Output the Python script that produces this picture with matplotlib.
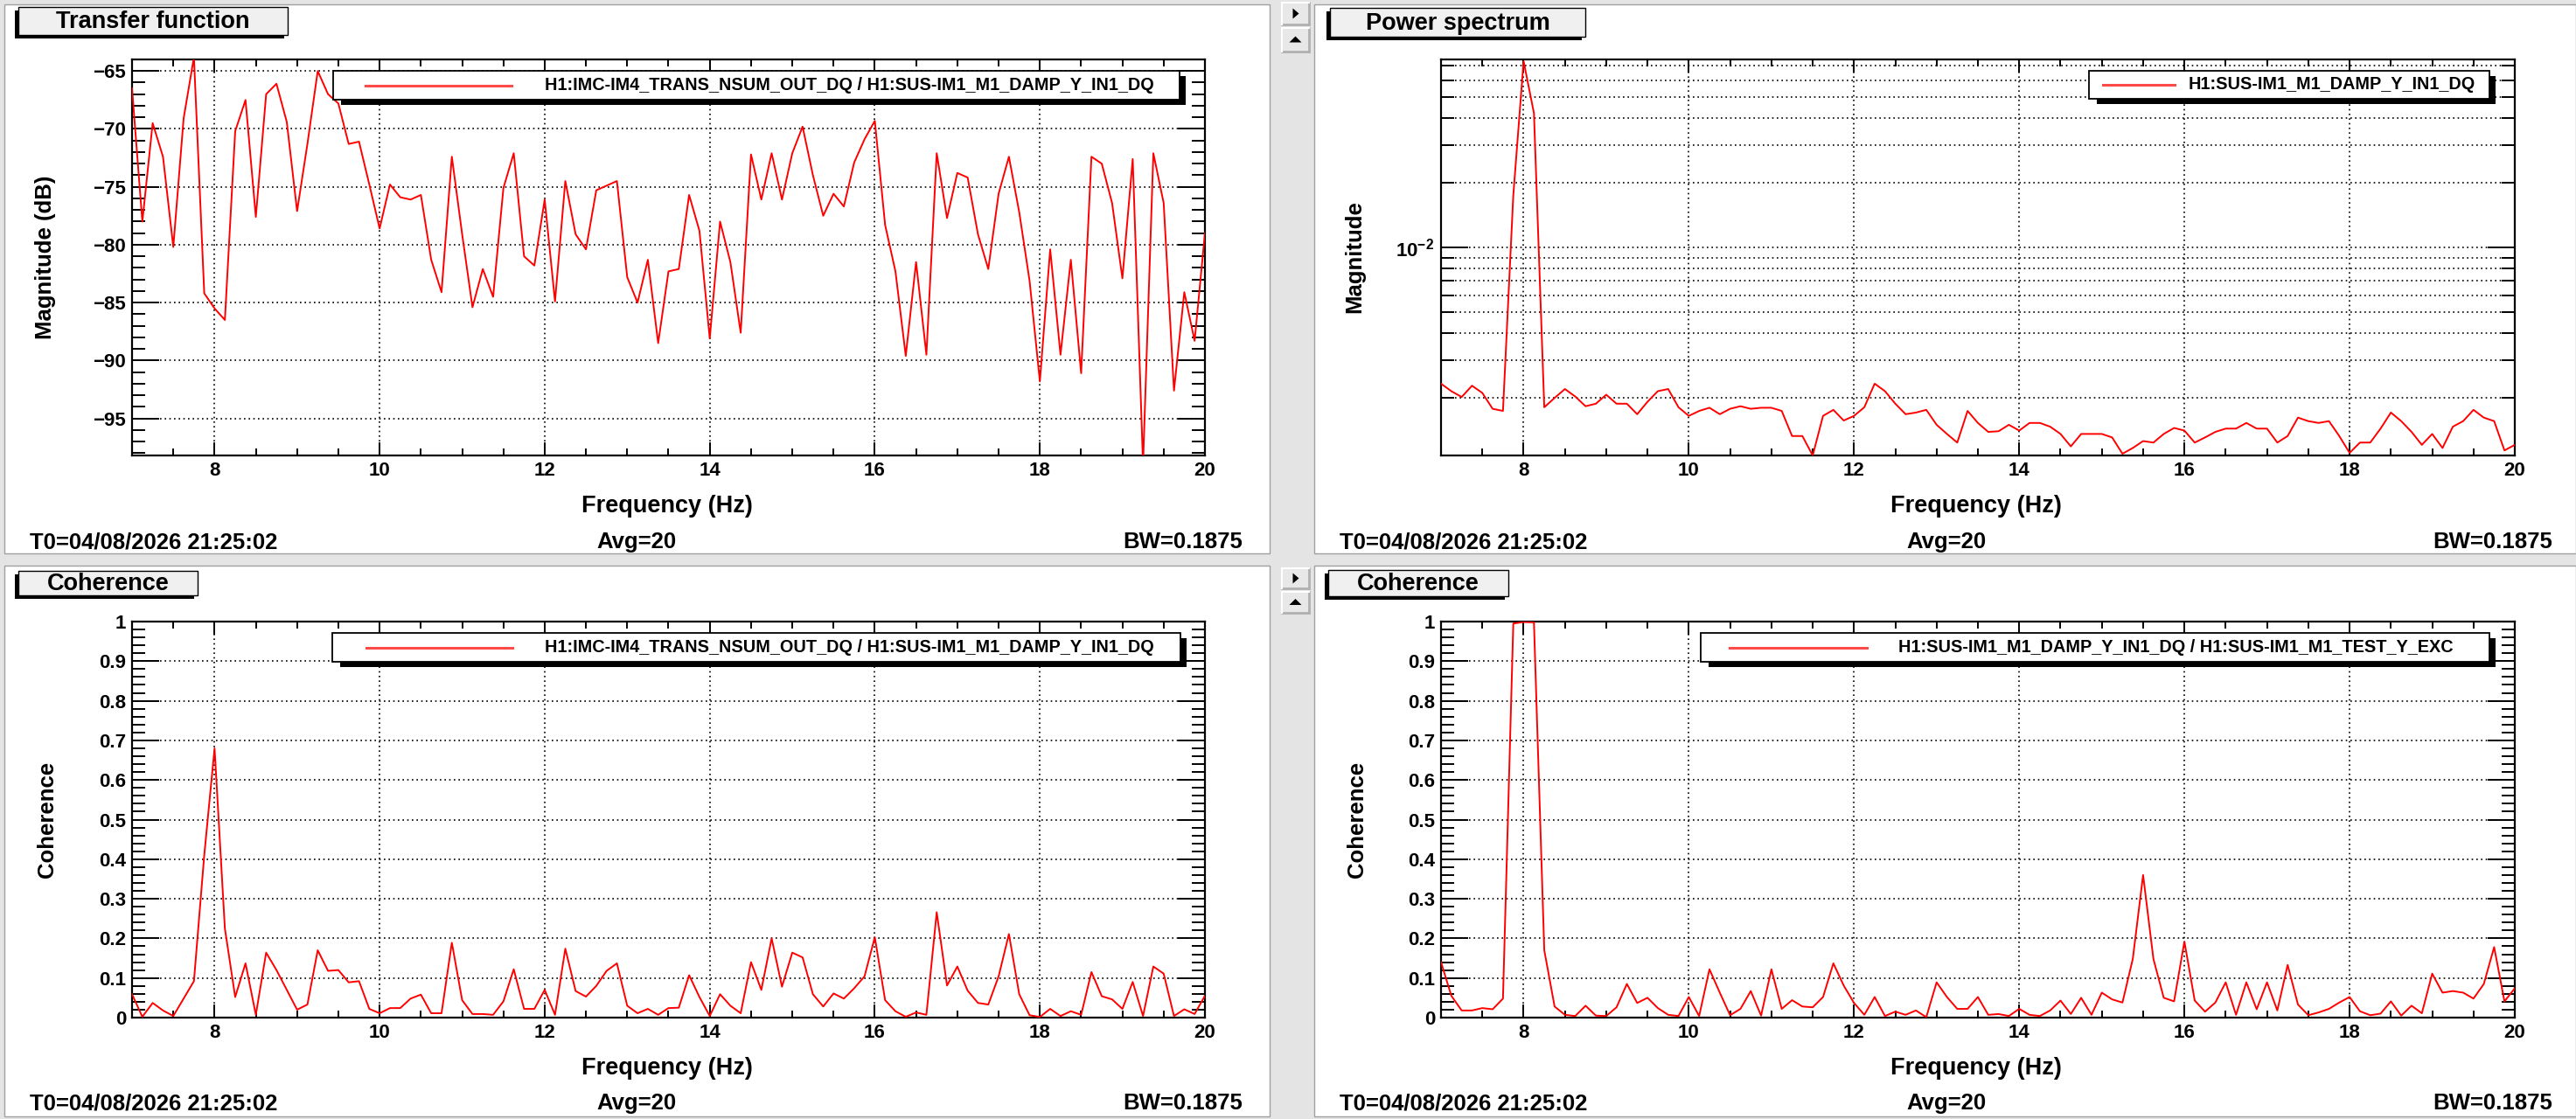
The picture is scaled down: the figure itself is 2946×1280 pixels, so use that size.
import numpy as np
import matplotlib
matplotlib.use("Agg")
import matplotlib.pyplot as plt
from matplotlib.patches import Rectangle, Polygon
from matplotlib.lines import Line2D
from matplotlib.ticker import MultipleLocator, FixedLocator, FixedFormatter, NullFormatter

plt.rcParams['font.family'] = ['Liberation Sans', 'DejaVu Sans']
plt.rcParams['font.weight'] = 'bold'
plt.rcParams['mathtext.fontset'] = 'custom'
plt.rcParams['mathtext.rm'] = 'Liberation Sans:bold'
plt.rcParams['mathtext.it'] = 'Liberation Sans:bold'
plt.rcParams['mathtext.bf'] = 'Liberation Sans:bold'

# ---------------- data ----------------
freq_start = 7.0
freq_step = 0.125
n_points = 105
freq = freq_start + freq_step * np.arange(n_points)

tf_mag_db = [
    -66.5, -78.0, -69.5, -72.4, -80.2, -69.1, -63.8, -84.2,   # 7
    -85.5, -86.5, -70.2, -67.5, -77.6, -67.0, -66.1, -69.4,   # 8
    -77.1, -71.3, -65.0, -67.0, -67.8, -71.3, -71.1, -74.8,   # 9
    -78.6, -74.8, -75.9, -76.1, -75.7, -81.3, -84.1, -72.4,   # 10
    -79.1, -85.4, -82.1, -84.5, -75.1, -72.1, -81.0, -81.8,   # 11
    -76.1, -84.9, -74.5, -79.1, -80.4, -75.3, -74.9, -74.5,   # 12
    -82.8, -85.0, -81.3, -88.5, -82.3, -82.1, -75.7, -78.8,   # 13
    -88.1, -78.0, -81.5, -87.6, -72.2, -76.1, -72.1, -76.1,   # 14
    -72.1, -69.8, -74.0, -77.5, -75.6, -76.7, -72.9, -70.9,   # 15
    -69.3, -78.3, -82.3, -89.6, -81.5, -89.5, -72.1, -77.7,   # 16
    -73.8, -74.2, -79.1, -82.1, -75.6, -72.4, -77.2, -83.1,   # 17
    -91.8, -80.4, -89.5, -81.3, -91.1, -72.4, -73.0, -76.4,   # 18
    -82.9, -72.6, -99.0, -72.1, -76.4, -92.6, -84.1, -88.3,   # 19
    -79.0]

psd_mag = [
    2.33e-3, 2.15e-3, 2.02e-3, 2.28e-3, 2.11e-3, 1.78e-3, 1.74e-3, 1.75e-2,
    7.36e-2, 4.22e-2, 1.81e-3, 2.00e-3, 2.20e-3, 2.03e-3, 1.83e-3, 1.88e-3,
    2.07e-3, 1.88e-3, 1.88e-3, 1.68e-3, 1.92e-3, 2.15e-3, 2.20e-3, 1.81e-3,
    1.65e-3, 1.74e-3, 1.80e-3, 1.68e-3, 1.78e-3, 1.83e-3, 1.78e-3, 1.80e-3,
    1.80e-3, 1.74e-3, 1.33e-3, 1.33e-3, 1.08e-3, 1.65e-3, 1.76e-3, 1.57e-3,
    1.65e-3, 1.81e-3, 2.33e-3, 2.15e-3, 1.88e-3, 1.68e-3, 1.71e-3, 1.76e-3,
    1.50e-3, 1.36e-3, 1.24e-3, 1.74e-3, 1.53e-3, 1.39e-3, 1.40e-3, 1.50e-3,
    1.41e-3, 1.53e-3, 1.53e-3, 1.47e-3, 1.36e-3, 1.19e-3, 1.36e-3, 1.36e-3,
    1.36e-3, 1.31e-3, 1.10e-3, 1.17e-3, 1.26e-3, 1.24e-3, 1.36e-3, 1.45e-3,
    1.41e-3, 1.24e-3, 1.31e-3, 1.39e-3, 1.44e-3, 1.44e-3, 1.53e-3, 1.44e-3,
    1.44e-3, 1.24e-3, 1.33e-3, 1.62e-3, 1.56e-3, 1.53e-3, 1.56e-3, 1.33e-3,
    1.11e-3, 1.24e-3, 1.24e-3, 1.44e-3, 1.71e-3, 1.56e-3, 1.39e-3, 1.21e-3,
    1.36e-3, 1.17e-3, 1.47e-3, 1.56e-3, 1.76e-3, 1.62e-3, 1.56e-3, 1.14e-3,
    1.21e-3]

coh_imc = [
    0.059, 0.002, 0.037, 0.018, 0.004, 0.048, 0.092, 0.410,
    0.680, 0.225, 0.052, 0.137, 0.007, 0.164, 0.120, 0.070,
    0.020, 0.033, 0.170, 0.118, 0.120, 0.089, 0.092, 0.022,
    0.011, 0.024, 0.024, 0.048, 0.058, 0.011, 0.011, 0.189,
    0.044, 0.009, 0.009, 0.007, 0.041, 0.122, 0.022, 0.022,
    0.070, 0.007, 0.174, 0.067, 0.053, 0.080, 0.118, 0.137,
    0.030, 0.011, 0.022, 0.007, 0.024, 0.025, 0.107, 0.052,
    0.004, 0.059, 0.030, 0.011, 0.140, 0.070, 0.200, 0.078,
    0.164, 0.152, 0.059, 0.028, 0.061, 0.048, 0.074, 0.104,
    0.203, 0.044, 0.016, 0.002, 0.013, 0.007, 0.266, 0.081,
    0.129, 0.068, 0.037, 0.033, 0.104, 0.211, 0.059, 0.006,
    0.0015, 0.022, 0.004, 0.016, 0.007, 0.115, 0.054, 0.046,
    0.022, 0.090, 0.004, 0.129, 0.111, 0.004, 0.021, 0.009,
    0.055]

coh_sus = [
    0.140, 0.055, 0.018, 0.018, 0.024, 0.021, 0.048, 0.995,
    0.999, 0.998, 0.170, 0.028, 0.007, 0.004, 0.030, 0.005,
    0.004, 0.026, 0.085, 0.037, 0.050, 0.024, 0.007, 0.004,
    0.052, 0.004, 0.122, 0.063, 0.006, 0.022, 0.067, 0.005,
    0.122, 0.022, 0.044, 0.028, 0.026, 0.052, 0.137, 0.081,
    0.037, 0.007, 0.052, 0.004, 0.015, 0.007, 0.018, 0.001,
    0.089, 0.052, 0.022, 0.022, 0.052, 0.007, 0.009, 0.004,
    0.022, 0.007, 0.004, 0.018, 0.043, 0.009, 0.050, 0.007,
    0.063, 0.046, 0.038, 0.148, 0.360, 0.148, 0.050, 0.041,
    0.192, 0.043, 0.015, 0.038, 0.089, 0.007, 0.089, 0.021,
    0.089, 0.018, 0.133, 0.033, 0.006, 0.013, 0.022, 0.038,
    0.052, 0.016, 0.006, 0.010, 0.041, 0.005, 0.030, 0.011,
    0.111, 0.063, 0.067, 0.063, 0.048, 0.085, 0.178, 0.041,
    0.074]

panel_titles = ["Transfer function", "Power spectrum", "Coherence", "Coherence"]
legend_labels = ["H1:IMC-IM4_TRANS_NSUM_OUT_DQ / H1:SUS-IM1_M1_DAMP_Y_IN1_DQ",
                 "H1:SUS-IM1_M1_DAMP_Y_IN1_DQ",
                 "H1:IMC-IM4_TRANS_NSUM_OUT_DQ / H1:SUS-IM1_M1_DAMP_Y_IN1_DQ",
                 "H1:SUS-IM1_M1_DAMP_Y_IN1_DQ / H1:SUS-IM1_M1_TEST_Y_EXC"]
y_labels = ["Magnitude (dB)", "Magnitude", "Coherence", "Coherence"]
x_label = "Frequency (Hz)"
footer_t0 = "T0=04/08/2026 21:25:02"
footer_avg = "Avg=20"
footer_bw = "BW=0.1875"
freq_ticks = [8, 10, 12, 14, 16, 18, 20]
tf_ticks = [-95, -90, -85, -80, -75, -70, -65]
psd_major_ticks = [1e-2]
psd_minor_ticks = [2e-3, 3e-3, 4e-3, 5e-3, 6e-3, 7e-3, 8e-3, 9e-3,
                   2e-2, 3e-2, 4e-2, 5e-2, 6e-2, 7e-2]
coh_ticks = [0, 0.1, 0.2, 0.3, 0.4, 0.5, 0.6, 0.7, 0.8, 0.9, 1.0]
coh_tick_labels = ["0", "0.1", "0.2", "0.3", "0.4", "0.5", "0.6", "0.7", "0.8", "0.9", "1"]

# ---------------- figure / pixel helpers ----------------
W, H = 2946, 1280
fig = plt.figure(figsize=(W / 100, H / 100), dpi=100)
fig.patch.set_facecolor('#e4e4e4')


def fx(x):
    return x / W


def fy(y):
    return 1 - y / H


def rect(x0, y0, x1, y1, **kw):
    r = Rectangle((fx(x0), fy(y1)), (x1 - x0) / W, (y1 - y0) / H,
                  transform=fig.transFigure, **kw)
    fig.add_artist(r)
    return r


def ftext(x, y, s, **kw):
    return fig.text(fx(x), fy(y), s, **kw)


# panels
panels = [(5, 5, 1452, 633), (1503, 5, 2946, 633),
          (5, 647, 1452, 1277), (1503, 647, 2946, 1277)]
for (x0, y0, x1, y1) in panels:
    rect(x0, y0, x1, y1, facecolor='white', edgecolor='#a0a0a0', lw=1.0, zorder=-10)


# buttons on separator
def button(x0, y0, x1, y1, kind):
    rect(x0, y0, x1, y1, facecolor='#e8e8e8', edgecolor='none', zorder=-5)
    fig.add_artist(Line2D([fx(x0), fx(x1)], [fy(y1), fy(y1)], color='#b0b0b0', lw=2, transform=fig.transFigure))
    fig.add_artist(Line2D([fx(x1), fx(x1)], [fy(y0), fy(y1)], color='#b0b0b0', lw=2, transform=fig.transFigure))
    fig.add_artist(Line2D([fx(x0), fx(x1)], [fy(y0), fy(y0)], color='white', lw=1.5, transform=fig.transFigure))
    fig.add_artist(Line2D([fx(x0), fx(x0)], [fy(y0), fy(y1)], color='white', lw=1.5, transform=fig.transFigure))
    cx, cy = (x0 + x1) / 2, (y0 + y1) / 2
    if kind == 'right':
        pts = [(cx - 3, cy - 6), (cx - 3, cy + 6), (cx + 4, cy)]
    else:
        pts = [(cx - 7, cy + 3), (cx + 7, cy + 3), (cx, cy - 4)]
    fig.add_artist(Polygon([(fx(a), fy(b)) for a, b in pts], closed=True,
                           facecolor='black', edgecolor='none', transform=fig.transFigure))


button(1466, 3, 1497, 28, 'right')
button(1466, 32, 1497, 59, 'up')
button(1466, 650, 1497, 673, 'right')
button(1466, 677, 1497, 701, 'up')

# axes rectangles (pixel)
ax_px = [(151, 68, 1378, 521), (1648, 68, 2876, 521),
         (151, 711, 1378, 1164), (1648, 711, 2876, 1164)]
axes = []
for (x0, y0, x1, y1) in ax_px:
    a = fig.add_axes([x0 / W, 1 - y1 / H, (x1 - x0) / W, (y1 - y0) / H])
    axes.append(a)

grid_kw = dict(color='black', linestyle=(0, (1, 2.2)), linewidth=1.2)
series = [tf_mag_db, psd_mag, coh_imc, coh_sus]

for i, ax in enumerate(axes):
    ax.plot(freq, series[i], color='#ff0000', lw=1.4, zorder=3)
    ax.set_xlim(7, 20)
    ax.xaxis.set_major_locator(FixedLocator(freq_ticks))
    ax.xaxis.set_major_formatter(FixedFormatter([str(t) for t in freq_ticks]))
    ax.xaxis.set_minor_locator(MultipleLocator(0.5))
    for s in ax.spines.values():
        s.set_linewidth(1.6)
        s.set_color('black')
    ax.tick_params(axis='both', which='both', direction='in', top=True, right=True,
                   width=1.4, color='black', labelsize=16)
    ax.tick_params(axis='x', which='major', length=11, pad=5)
    ax.tick_params(axis='x', which='minor', length=6)
    ax.tick_params(axis='y', which='major', length=22, pad=5)
    ax.tick_params(axis='y', which='minor', length=11)
    ax.grid(True, axis='x', which='major', **grid_kw)
    ax.set_axisbelow(True)

# transfer function axis
a0 = axes[0]
a0.set_ylim(-98.2, -64.0)
a0.yaxis.set_major_locator(FixedLocator(tf_ticks))
a0.yaxis.set_minor_locator(MultipleLocator(1))
a0.grid(True, axis='y', which='major', **grid_kw)

# power spectrum axis
a1 = axes[1]
a1.set_yscale('log')
a1.set_ylim(1.08e-3, 7.5e-2)
a1.yaxis.set_major_locator(FixedLocator(psd_major_ticks))
a1.yaxis.set_major_formatter(FixedFormatter([r'$10^{-2}$']))
a1.yaxis.set_minor_locator(FixedLocator(psd_minor_ticks))
a1.yaxis.set_minor_formatter(NullFormatter())
a1.grid(True, axis='y', which='both', **grid_kw)
a1.tick_params(axis='y', which='major', length=22, pad=6)
a1.tick_params(axis='y', which='minor', length=11)

# coherence axes
for a in axes[2:]:
    a.set_ylim(0, 1)
    a.yaxis.set_major_locator(FixedLocator(coh_ticks))
    a.yaxis.set_major_formatter(FixedFormatter(coh_tick_labels))
    a.yaxis.set_minor_locator(MultipleLocator(0.02))
    a.grid(True, axis='y', which='major', **grid_kw)


# ---------------- title boxes ----------------
def title_box(x0, y0, x1, y1, text):
    rect(x0 - 4.5, y0 + 4, x1 - 4.5, y1 + 4, facecolor='black', edgecolor='none', zorder=4)
    rect(x0, y0, x1, y1, facecolor='#f0f0f0', edgecolor='black', lw=1.0, zorder=5)
    ftext((x0 + x1) / 2, (y0 + y1) / 2 + 1, text, ha='center', va='center',
          fontsize=19.5, fontweight='bold', zorder=6)


title_box(21, 8, 329, 40, panel_titles[0])
title_box(1521, 9, 1813, 42, panel_titles[1])
title_box(21, 653, 226, 681, panel_titles[2])
title_box(1519, 652, 1725, 682, panel_titles[3])


# ---------------- legends ----------------
def legend_box(x0, y0, x1, y1, lx0, lx1, tx, text):
    rect(x0 + 9, y0 + 6, x1 + 7, y1 + 6, facecolor='black', edgecolor='none', zorder=7)
    rect(x0, y0, x1, y1, facecolor='white', edgecolor='black', lw=1.3, zorder=8)
    yc = (y0 + y1) / 2
    fig.add_artist(Line2D([fx(lx0), fx(lx1)], [fy(yc), fy(yc)], color='#ff4a4a',
                          lw=2.2, transform=fig.transFigure, zorder=9))
    ftext(tx, yc, text, ha='left', va='center', fontsize=14.3, fontweight='bold', zorder=9)


legend_box(381, 81, 1349, 114, 418, 585, 623, legend_labels[0])
legend_box(2389, 81, 2847, 113, 2405, 2487, 2503, legend_labels[1])
legend_box(380, 724, 1350, 757, 419, 586, 623, legend_labels[2])
legend_box(1945, 724, 2847, 757, 1978, 2135, 2171, legend_labels[3])

# ---------------- axis labels and footers ----------------
xlabel_pos = [(763, 579), (2260, 579), (763, 1222), (2260, 1222)]
ylabel_pos = [(52, 294), (1549, 294), (54, 937), (1552, 937)]
for i in range(4):
    ftext(*xlabel_pos[i], x_label, ha='center', va='center', fontsize=19.5, fontweight='bold')
    ftext(*ylabel_pos[i], y_labels[i], ha='center', va='center', rotation=90,
          fontsize=18.5, fontweight='bold')

footer_rows = [(620, 5), (620, 1503), (1262, 5), (1262, 1503)]
for (yy, px) in footer_rows:
    ftext(px + 29, yy, footer_t0, ha='left', va='center', fontsize=18.5, fontweight='bold')
    ftext(px + 723, yy, footer_avg, ha='center', va='center', fontsize=18.5, fontweight='bold')
    ftext(px + 1416, yy, footer_bw, ha='right', va='center', fontsize=18.5, fontweight='bold')

fig.savefig('out.png', dpi=100, facecolor=fig.get_facecolor())
